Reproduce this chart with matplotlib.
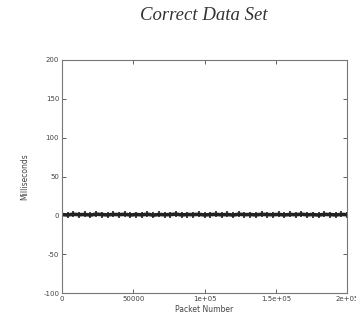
import matplotlib.pyplot as plt

plt.rcParams['axes.unicode_minus'] = False

# 数据 (采样读取的包序号与延迟)
packets = [0, 4000, 8000, 12000, 16000, 20000, 24000, 28000, 32000, 36000,
           40000, 44000, 48000, 52000, 56000, 60000, 64000, 68000, 72000, 76000,
           80000, 84000, 88000, 92000, 96000, 100000, 104000, 108000, 112000, 116000,
           120000, 124000, 128000, 132000, 136000, 140000, 144000, 148000, 152000, 156000,
           160000, 164000, 168000, 172000, 176000, 180000, 184000, 188000, 192000, 196000,
           200000]
millis = [1.0, 0.5, 1.5, 0.8, 1.2, 0.4, 1.6, 1.0, 0.6, 1.3,
          0.9, 1.4, 0.5, 1.1, 0.7, 1.5, 0.3, 1.2, 0.8, 1.0,
          1.6, 0.6, 1.1, 0.9, 1.4, 0.5, 1.0, 1.3, 0.7, 1.2,
          0.4, 1.5, 0.9, 1.1, 0.6, 1.4, 1.0, 0.8, 1.3, 0.5,
          1.2, 0.9, 1.5, 0.7, 1.1, 0.4, 1.3, 1.0, 0.6, 1.2, 0.9]

xticks = [0, 50000, 100000, 150000, 200000]
xtick_labels = ['0', '50000', '1e+05', '1.5e+05', '2e+05']
yticks = [-100, -50, 0, 50, 100, 150, 200]

fig = plt.figure(figsize=(3.56, 3.26), dpi=100)
ax = fig.add_axes([0.174, 0.101, 0.801, 0.715])

ax.plot(packets, millis, color='#222222', lw=2.6, marker='+', ms=4, mew=1.2)

ax.set_xlim(0, 200000)
ax.set_ylim(-100, 200)
ax.set_xticks(xticks)
ax.set_xticklabels(xtick_labels)
ax.set_yticks(yticks)
ax.tick_params(direction='in', length=3, width=0.6, labelsize=5,
               colors='#444444', top=True, right=True, pad=2)
for s in ax.spines.values():
    s.set_color('#777777')
    s.set_linewidth(0.8)

ax.set_xlabel('Packet Number', fontsize=5.5, color='#444444', labelpad=2)
ax.set_ylabel('Milliseconds', fontsize=5.5, color='#444444', labelpad=10)
fig.text(0.573, 0.951, 'Correct Data Set', ha='center', va='center',
         fontsize=13.5, style='italic', family='Liberation Serif', color='#333333')

fig.savefig('out.png', dpi=100)
